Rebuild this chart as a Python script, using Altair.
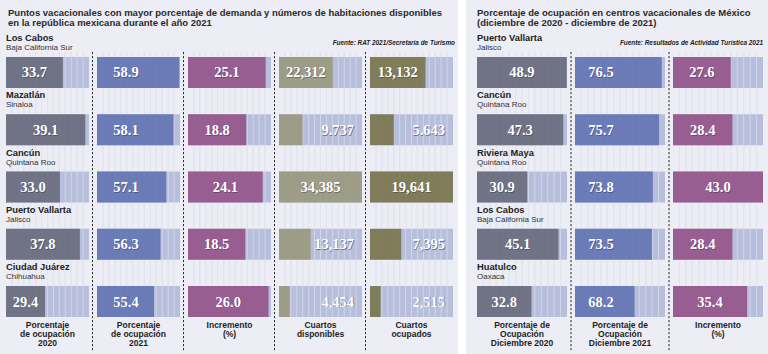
import altair as alt
import pandas as pd

# ---------------- data ----------------
left_title = ["Puntos vacacionales con mayor porcentaje de demanda y números de habitaciones disponibles",
              "en la república mexicana durante el año 2021"]
left_source = "Fuente: RAT 2021/Secretaría de Turismo"
left_cities = ["Los Cabos", "Mazatlán", "Cancún", "Puerto Vallarta", "Ciudad Juárez"]
left_states = ["Baja California Sur", "Sinaloa", "Quintana Roo", "Jalisco", "Chihuahua"]
ocup_2020 = [33.7, 39.1, 33.0, 37.8, 29.4]
ocup_2021 = [58.9, 58.1, 57.1, 56.3, 55.4]
incremento = [25.1, 18.8, 24.1, 18.5, 26.0]
cuartos_disp = [22312, 9737, 34385, 13137, 4454]
cuartos_disp_txt = ["22,312", "9.737", "34,385", "13,137", "4,454"]
cuartos_ocup = [13132, 5643, 19641, 7395, 2515]
cuartos_ocup_txt = ["13,132", "5.643", "19,641", "7,395", "2,515"]
left_footers = [["Porcentaje", "de ocupación", "2020"],
                ["Porcentaje", "de ocupación", "2021"],
                ["Incremento", "(%)"],
                ["Cuartos", "disponibles"],
                ["Cuartos", "ocupados"]]

right_title = ["Porcentaje de ocupación en centros vacacionales de México",
               "(diciembre de 2020 - diciembre de 2021)"]
right_source = "Fuente: Resultados de Actividad Turística 2021"
right_cities = ["Puerto Vallarta", "Cancún", "Riviera Maya", "Los Cabos", "Huatulco"]
right_states = ["Jalisco", "Quintana Roo", "Quintana Roo", "Baja California Sur", "Oaxaca"]
dic_2020 = [48.9, 47.3, 30.9, 45.1, 32.8]
dic_2021 = [76.5, 75.7, 73.8, 73.5, 68.2]
dic_incr = [27.6, 28.4, 43.0, 28.4, 35.4]
right_footers = [["Porcentaje de", "Ocupación", "Diciembre 2020"],
                 ["Porcentaje de", "Ocupación", "Diciembre 2021"],
                 ["Incremento", "(%)"]]

# ---------------- style ----------------
BG = "#ecedf5"
TRACK = "#b8bfdc"
GRID_UNDER = "#ccd0de"
SEP = "#2f2f2f"
C_GRAY = "#6b6e80"
C_BLUE = "#6677b5"
C_MAG = "#96578c"
C_OLG = "#9b9a82"
C_OLV = "#7c7852"
SANS = "Liberation Sans"
SERIF = "Liberation Serif"
H = 260

one = pd.DataFrame({"k": [0]})


def fmt1(vals):
    return [f"{v:.1f}" for v in vals]


def ycode(cities):
    return alt.Y("city:N", sort=cities, axis=None,
                 scale=alt.Scale(paddingInner=0.46, paddingOuter=0))


def label(text, x, y, size, weight="normal", style="normal", align="left",
          color="#222222", baseline="middle"):
    return alt.Chart(one).mark_text(
        text=text, align=align, baseline=baseline, font=SANS, fontSize=size,
        fontWeight=weight, fontStyle=style, color=color, lineBreak="\n", lineHeight=9.2
    ).encode(x=alt.value(x), y=alt.value(y))


def column(cities, states, values, labels, lo, hi, color, footer, W,
           sep_dx=None, text_off=None, pre=(), post=()):
    df = pd.DataFrame({"city": cities, "state": states, "v": values, "lab": labels})
    xs = alt.Scale(domain=[lo, hi], zero=False, nice=False)
    y = ycode(cities)
    step = (hi - lo) / 14
    seq = alt.sequence(lo + step, hi - step / 2, step, as_="g")

    grid_under = alt.Chart(seq).mark_rule(color=GRID_UNDER, strokeWidth=0.8).encode(
        x=alt.X("g:Q", scale=xs, axis=None), y=alt.value(-5), y2=alt.value(H))
    track = alt.Chart(df).mark_bar(color=TRACK).encode(
        x=alt.XDatum(lo, type="quantitative", scale=xs, axis=None),
        x2=alt.datum(hi), y=y)
    grid_over = alt.Chart(seq).mark_rule(color="white", strokeWidth=0.8, opacity=0.45).encode(
        x=alt.X("g:Q", scale=xs, axis=None), y=alt.value(-5), y2=alt.value(H))
    fill = alt.Chart(df).mark_bar(color=color, opacity=0.94).encode(
        x=alt.X("v:Q", scale=xs, axis=None), x2=alt.datum(lo), y=y)

    tx = alt.Chart(df).transform_calculate(
        mid=f"({lo} + datum.v) / 2", frac=f"(datum.v - {lo}) / {hi - lo}")
    big = tx.transform_filter("datum.frac >= 0.45")
    small = tx.transform_filter("datum.frac < 0.45")
    tp = dict(font=SERIF, fontSize=14.5, fontWeight="bold", baseline="middle")
    if text_off is None:
        xc = alt.X("mid:Q", scale=xs, axis=None)
        off = 0
    else:
        xc = alt.XDatum(lo, type="quantitative", scale=xs, axis=None)
        off = text_off
    sh_c = big.mark_text(color="#262a44", opacity=0.4, dx=off + 0.7, dy=1.8, align="center", **tp).encode(
        x=xc, y=y, text="lab:N")
    tx_c = big.mark_text(color="white", dx=off, dy=1, align="center", **tp).encode(
        x=xc, y=y, text="lab:N")
    sh_r = small.mark_text(color="#262a44", opacity=0.55, dx=-7.3, dy=1.8, align="right", **tp).encode(
        x=alt.XDatum(hi, type="quantitative", scale=xs, axis=None), y=y, text="lab:N")
    tx_r = small.mark_text(color="white", dx=-8, dy=1, align="right", **tp).encode(
        x=alt.XDatum(hi, type="quantitative", scale=xs, axis=None), y=y, text="lab:N")

    foot = label("\n".join(footer), W / 2, H + 3.5, 8.5, weight="bold", align="center",
                 color="#1e1e1e", baseline="top")

    layers = list(pre) + [grid_under, track, grid_over, fill]
    if sep_dx is not None:
        layers.append(alt.Chart(one).mark_rule(color=SEP, strokeDash=[2.2, 1.8], strokeWidth=1).encode(
            x=alt.value(sep_dx), y=alt.value(-5), y2=alt.value(H + 35)))
    layers += [sh_c, sh_r, tx_c, tx_r, foot]
    layers += list(post)
    return alt.layer(*layers).properties(width=W, height=H)


def city_layers(cities, states):
    df = pd.DataFrame({"city": cities, "state": states})
    y = ycode(cities)
    names = alt.Chart(df).mark_text(align="left", baseline="middle", font=SANS, fontSize=9.3,
                                    fontWeight="bold", color="#222222", dy=-34.5).encode(
        x=alt.value(0), y=y, text="city:N")
    sts = alt.Chart(df).mark_text(align="left", baseline="middle", font=SANS, fontSize=8,
                                  color="#333333", dy=-24.5).encode(
        x=alt.value(0), y=y, text="state:N")
    return [names, sts]


SPACING = 8
# ---------------- left panel ----------------
WL = 83
bg_rect = alt.Chart(one).mark_rect(color=BG).encode(
    x=alt.value(-6), x2=alt.value(762), y=alt.value(-57), y2=alt.value(297))

left_specs = [
    (ocup_2020, fmt1(ocup_2020), 20, 40, C_GRAY, None),
    (ocup_2021, fmt1(ocup_2021), 47.5, 59, C_BLUE, 29),
    (incremento, fmt1(incremento), 0, 26.8, C_MAG, None),
    (cuartos_disp, cuartos_disp_txt, 0, 34400, C_OLG, None),
    (cuartos_ocup, cuartos_ocup_txt, 0, 19650, C_OLV, None),
]
cols = []
for i, (vals, labs, lo, hi, col, toff) in enumerate(left_specs):
    pre, post = [], []
    if i == 0:
        pre = [bg_rect]
        post = city_layers(left_cities, left_states) + [
            label(left_title[0], 2, -44, 9.5, weight="bold", color="#2a2a2a"),
            label(left_title[1], 2, -34, 9.5, weight="bold", color="#2a2a2a"),
        ]
    if i == len(left_specs) - 1:
        post = [label(left_source, WL + 2, -14, 6.4, weight="bold", style="italic",
                      align="right", color="#222222")]
    cols.append(column(left_cities, left_states, vals, labs, lo, hi, col,
                       left_footers[i], WL, sep_dx=(-4.5 if i > 0 else None),
                       text_off=toff, pre=pre, post=post))

# white strip separating the two panels
spacer = alt.Chart(one).mark_rect(color="white").encode(
    x=alt.value(-3), x2=alt.value(5), y=alt.value(-57), y2=alt.value(297)
).properties(width=8, height=H)
cols.append(spacer)

# ---------------- right panel ----------------
WR = 90
right_specs = [
    (dic_2020, fmt1(dic_2020), 8, 49, C_GRAY, None),
    (dic_2021, fmt1(dic_2021), 50, 77.5, C_BLUE, 26),
    (dic_incr, fmt1(dic_incr), 0, 43, C_MAG, None),
]
for i, (vals, labs, lo, hi, col, toff) in enumerate(right_specs):
    post = []
    if i == 0:
        post = city_layers(right_cities, right_states) + [
            label(right_title[0], 0, -44, 9.5, weight="bold", color="#2a2a2a"),
            label(right_title[1], 0, -34, 9.5, weight="bold", color="#2a2a2a"),
        ]
    if i == len(right_specs) - 1:
        post = [label(right_source, WR, -14, 6.4, weight="bold", style="italic",
                      align="right", color="#222222")]
    cols.append(column(right_cities, right_states, vals, labs, lo, hi, col,
                       right_footers[i], WR, sep_dx=(-4 if i > 0 else None),
                       text_off=toff, post=post))

chart = alt.hconcat(*cols, spacing=SPACING, bounds="flush").properties(
    padding=0, background=BG
).configure_view(stroke=None)

chart.save("out.html", embed_options={"renderer": "svg", "actions": False})
